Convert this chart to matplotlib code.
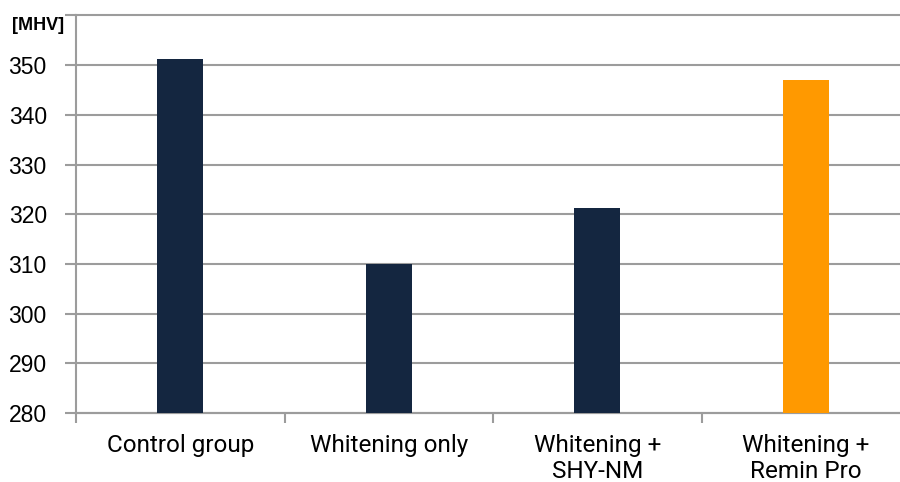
import numpy as np
import matplotlib.pyplot as plt

# Data
groups = ["Control group", "Whitening only", "Whitening +\nSHY-NM", "Whitening +\nRemin Pro"]
hardness = [351.3, 310.0, 321.2, 347.1]
bar_colors = ["#142640", "#142640", "#142640", "#FF9900"]
y_ticks = [280, 290, 300, 310, 320, 330, 340, 350]

grid_col = "#9c9c9c"

fig = plt.figure(figsize=(9, 4.82), dpi=100)
ax = fig.add_axes([76 / 900, 69 / 482, 834 / 900, 397.5 / 482])

x = np.arange(len(groups))
ax.bar(x, hardness, width=0.22, color=bar_colors, zorder=3)

ax.set_xlim(-0.5, len(groups) - 0.5)
ax.set_ylim(280, 360)
ax.set_yticks(y_ticks + [360])
ax.set_yticklabels([str(v) for v in y_ticks] + [""], fontsize=16.5, family="Liberation Sans")
ax.yaxis.grid(True, color=grid_col, linewidth=1.5, zorder=0)
for gl in ax.get_ygridlines():
    gl.set_clip_on(False)

# category labels at centres, tick marks at boundaries
ax.set_xticks(x)
ax.set_xticklabels(groups, fontsize=17.5, family="Roboto", linespacing=1.15)
ax.tick_params(axis="x", which="major", length=0, pad=15)
ax.set_xticks(np.arange(-0.5, len(groups), 1.0), minor=True)
ax.tick_params(axis="x", which="minor", length=7, width=1.5, color=grid_col)
ax.tick_params(axis="y", length=8, width=1.5, color=grid_col, pad=13)

for side in ["top", "right"]:
    ax.spines[side].set_visible(False)
for side in ["left", "bottom"]:
    ax.spines[side].set_color(grid_col)
    ax.spines[side].set_linewidth(1.5)

fig.text(64 / 900, 1 - 25 / 482, "[MHV]", ha="right", va="center",
         fontsize=13, fontweight="bold", family="Liberation Sans")

fig.savefig("out.png", dpi=100)
